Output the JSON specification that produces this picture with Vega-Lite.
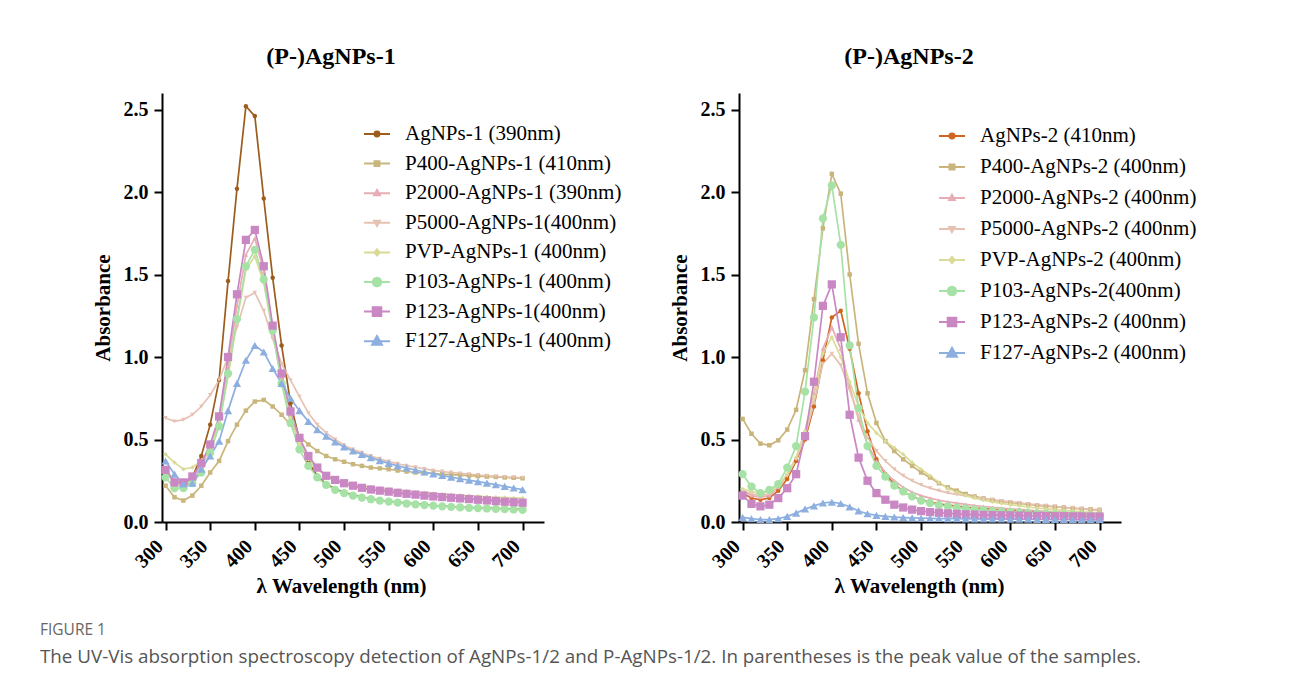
{
"$schema":"https://vega.github.io/schema/vega-lite/v6.json",
"background":"white",
"padding":{"left":40,"top":45,"right":5,"bottom":5},
"bounds":"flush",
"spacing":195,
"title":{"text":"FIGURE 1","subtitle":"The UV-Vis absorption spectroscopy detection of AgNPs-1/2 and P-AgNPs-1/2. In parentheses is the peak value of the samples.","orient":"bottom","anchor":"start","frame":"bounds","dx":-52,"offset":27,"font":"Open Sans","fontSize":15.5,"fontWeight":"normal","color":"#666666","subtitleFont":"Open Sans","subtitleFontSize":18.8,"subtitleColor":"#555555","subtitlePadding":9},
"datasets":{
"p1":[
{"series":"AgNPs-1 (390nm)","nm":300,"abs":0.31},{"series":"AgNPs-1 (390nm)","nm":310,"abs":0.25},{"series":"AgNPs-1 (390nm)","nm":320,"abs":0.23},{"series":"AgNPs-1 (390nm)","nm":330,"abs":0.27},{"series":"AgNPs-1 (390nm)","nm":340,"abs":0.40},{"series":"AgNPs-1 (390nm)","nm":350,"abs":0.59},{"series":"AgNPs-1 (390nm)","nm":360,"abs":0.86},{"series":"AgNPs-1 (390nm)","nm":370,"abs":1.46},{"series":"AgNPs-1 (390nm)","nm":380,"abs":2.02},{"series":"AgNPs-1 (390nm)","nm":390,"abs":2.52},{"series":"AgNPs-1 (390nm)","nm":400,"abs":2.46},{"series":"AgNPs-1 (390nm)","nm":410,"abs":1.96},{"series":"AgNPs-1 (390nm)","nm":420,"abs":1.48},{"series":"AgNPs-1 (390nm)","nm":430,"abs":1.07},{"series":"AgNPs-1 (390nm)","nm":440,"abs":0.72},{"series":"AgNPs-1 (390nm)","nm":450,"abs":0.50},{"series":"AgNPs-1 (390nm)","nm":460,"abs":0.36},{"series":"AgNPs-1 (390nm)","nm":470,"abs":0.28},{"series":"AgNPs-1 (390nm)","nm":480,"abs":0.23},{"series":"AgNPs-1 (390nm)","nm":490,"abs":0.20},{"series":"AgNPs-1 (390nm)","nm":500,"abs":0.18},{"series":"AgNPs-1 (390nm)","nm":510,"abs":0.165},{"series":"AgNPs-1 (390nm)","nm":520,"abs":0.15},{"series":"AgNPs-1 (390nm)","nm":530,"abs":0.14},{"series":"AgNPs-1 (390nm)","nm":540,"abs":0.132},{"series":"AgNPs-1 (390nm)","nm":550,"abs":0.125},{"series":"AgNPs-1 (390nm)","nm":560,"abs":0.12},{"series":"AgNPs-1 (390nm)","nm":570,"abs":0.115},{"series":"AgNPs-1 (390nm)","nm":580,"abs":0.11},{"series":"AgNPs-1 (390nm)","nm":590,"abs":0.105},{"series":"AgNPs-1 (390nm)","nm":600,"abs":0.10},{"series":"AgNPs-1 (390nm)","nm":610,"abs":0.097},{"series":"AgNPs-1 (390nm)","nm":620,"abs":0.094},{"series":"AgNPs-1 (390nm)","nm":630,"abs":0.091},{"series":"AgNPs-1 (390nm)","nm":640,"abs":0.088},{"series":"AgNPs-1 (390nm)","nm":650,"abs":0.086},{"series":"AgNPs-1 (390nm)","nm":660,"abs":0.084},{"series":"AgNPs-1 (390nm)","nm":670,"abs":0.082},{"series":"AgNPs-1 (390nm)","nm":680,"abs":0.08},{"series":"AgNPs-1 (390nm)","nm":690,"abs":0.078},{"series":"AgNPs-1 (390nm)","nm":700,"abs":0.076},
{"series":"P400-AgNPs-1 (410nm)","nm":300,"abs":0.22},{"series":"P400-AgNPs-1 (410nm)","nm":310,"abs":0.15},{"series":"P400-AgNPs-1 (410nm)","nm":320,"abs":0.13},{"series":"P400-AgNPs-1 (410nm)","nm":330,"abs":0.16},{"series":"P400-AgNPs-1 (410nm)","nm":340,"abs":0.22},{"series":"P400-AgNPs-1 (410nm)","nm":350,"abs":0.30},{"series":"P400-AgNPs-1 (410nm)","nm":360,"abs":0.37},{"series":"P400-AgNPs-1 (410nm)","nm":370,"abs":0.49},{"series":"P400-AgNPs-1 (410nm)","nm":380,"abs":0.59},{"series":"P400-AgNPs-1 (410nm)","nm":390,"abs":0.675},{"series":"P400-AgNPs-1 (410nm)","nm":400,"abs":0.73},{"series":"P400-AgNPs-1 (410nm)","nm":410,"abs":0.74},{"series":"P400-AgNPs-1 (410nm)","nm":420,"abs":0.70},{"series":"P400-AgNPs-1 (410nm)","nm":430,"abs":0.65},{"series":"P400-AgNPs-1 (410nm)","nm":440,"abs":0.59},{"series":"P400-AgNPs-1 (410nm)","nm":450,"abs":0.52},{"series":"P400-AgNPs-1 (410nm)","nm":460,"abs":0.47},{"series":"P400-AgNPs-1 (410nm)","nm":470,"abs":0.43},{"series":"P400-AgNPs-1 (410nm)","nm":480,"abs":0.40},{"series":"P400-AgNPs-1 (410nm)","nm":490,"abs":0.38},{"series":"P400-AgNPs-1 (410nm)","nm":500,"abs":0.365},{"series":"P400-AgNPs-1 (410nm)","nm":510,"abs":0.35},{"series":"P400-AgNPs-1 (410nm)","nm":520,"abs":0.34},{"series":"P400-AgNPs-1 (410nm)","nm":530,"abs":0.33},{"series":"P400-AgNPs-1 (410nm)","nm":540,"abs":0.325},{"series":"P400-AgNPs-1 (410nm)","nm":550,"abs":0.32},{"series":"P400-AgNPs-1 (410nm)","nm":560,"abs":0.312},{"series":"P400-AgNPs-1 (410nm)","nm":570,"abs":0.306},{"series":"P400-AgNPs-1 (410nm)","nm":580,"abs":0.30},{"series":"P400-AgNPs-1 (410nm)","nm":590,"abs":0.297},{"series":"P400-AgNPs-1 (410nm)","nm":600,"abs":0.294},{"series":"P400-AgNPs-1 (410nm)","nm":610,"abs":0.29},{"series":"P400-AgNPs-1 (410nm)","nm":620,"abs":0.287},{"series":"P400-AgNPs-1 (410nm)","nm":630,"abs":0.284},{"series":"P400-AgNPs-1 (410nm)","nm":640,"abs":0.281},{"series":"P400-AgNPs-1 (410nm)","nm":650,"abs":0.278},{"series":"P400-AgNPs-1 (410nm)","nm":660,"abs":0.275},{"series":"P400-AgNPs-1 (410nm)","nm":670,"abs":0.273},{"series":"P400-AgNPs-1 (410nm)","nm":680,"abs":0.27},{"series":"P400-AgNPs-1 (410nm)","nm":690,"abs":0.268},{"series":"P400-AgNPs-1 (410nm)","nm":700,"abs":0.265},
{"series":"P2000-AgNPs-1 (390nm)","nm":300,"abs":0.30},{"series":"P2000-AgNPs-1 (390nm)","nm":310,"abs":0.25},{"series":"P2000-AgNPs-1 (390nm)","nm":320,"abs":0.24},{"series":"P2000-AgNPs-1 (390nm)","nm":330,"abs":0.27},{"series":"P2000-AgNPs-1 (390nm)","nm":340,"abs":0.34},{"series":"P2000-AgNPs-1 (390nm)","nm":350,"abs":0.45},{"series":"P2000-AgNPs-1 (390nm)","nm":360,"abs":0.63},{"series":"P2000-AgNPs-1 (390nm)","nm":370,"abs":0.94},{"series":"P2000-AgNPs-1 (390nm)","nm":380,"abs":1.31},{"series":"P2000-AgNPs-1 (390nm)","nm":390,"abs":1.62},{"series":"P2000-AgNPs-1 (390nm)","nm":400,"abs":1.72},{"series":"P2000-AgNPs-1 (390nm)","nm":410,"abs":1.52},{"series":"P2000-AgNPs-1 (390nm)","nm":420,"abs":1.18},{"series":"P2000-AgNPs-1 (390nm)","nm":430,"abs":0.88},{"series":"P2000-AgNPs-1 (390nm)","nm":440,"abs":0.65},{"series":"P2000-AgNPs-1 (390nm)","nm":450,"abs":0.49},{"series":"P2000-AgNPs-1 (390nm)","nm":460,"abs":0.39},{"series":"P2000-AgNPs-1 (390nm)","nm":470,"abs":0.32},{"series":"P2000-AgNPs-1 (390nm)","nm":480,"abs":0.28},{"series":"P2000-AgNPs-1 (390nm)","nm":490,"abs":0.25},{"series":"P2000-AgNPs-1 (390nm)","nm":500,"abs":0.23},{"series":"P2000-AgNPs-1 (390nm)","nm":510,"abs":0.215},{"series":"P2000-AgNPs-1 (390nm)","nm":520,"abs":0.205},{"series":"P2000-AgNPs-1 (390nm)","nm":530,"abs":0.195},{"series":"P2000-AgNPs-1 (390nm)","nm":540,"abs":0.19},{"series":"P2000-AgNPs-1 (390nm)","nm":550,"abs":0.183},{"series":"P2000-AgNPs-1 (390nm)","nm":560,"abs":0.177},{"series":"P2000-AgNPs-1 (390nm)","nm":570,"abs":0.172},{"series":"P2000-AgNPs-1 (390nm)","nm":580,"abs":0.167},{"series":"P2000-AgNPs-1 (390nm)","nm":590,"abs":0.162},{"series":"P2000-AgNPs-1 (390nm)","nm":600,"abs":0.158},{"series":"P2000-AgNPs-1 (390nm)","nm":610,"abs":0.154},{"series":"P2000-AgNPs-1 (390nm)","nm":620,"abs":0.15},{"series":"P2000-AgNPs-1 (390nm)","nm":630,"abs":0.147},{"series":"P2000-AgNPs-1 (390nm)","nm":640,"abs":0.144},{"series":"P2000-AgNPs-1 (390nm)","nm":650,"abs":0.141},{"series":"P2000-AgNPs-1 (390nm)","nm":660,"abs":0.138},{"series":"P2000-AgNPs-1 (390nm)","nm":670,"abs":0.135},{"series":"P2000-AgNPs-1 (390nm)","nm":680,"abs":0.132},{"series":"P2000-AgNPs-1 (390nm)","nm":690,"abs":0.13},{"series":"P2000-AgNPs-1 (390nm)","nm":700,"abs":0.128},
{"series":"P5000-AgNPs-1(400nm)","nm":300,"abs":0.63},{"series":"P5000-AgNPs-1(400nm)","nm":310,"abs":0.61},{"series":"P5000-AgNPs-1(400nm)","nm":320,"abs":0.62},{"series":"P5000-AgNPs-1(400nm)","nm":330,"abs":0.65},{"series":"P5000-AgNPs-1(400nm)","nm":340,"abs":0.70},{"series":"P5000-AgNPs-1(400nm)","nm":350,"abs":0.77},{"series":"P5000-AgNPs-1(400nm)","nm":360,"abs":0.86},{"series":"P5000-AgNPs-1(400nm)","nm":370,"abs":1.00},{"series":"P5000-AgNPs-1(400nm)","nm":380,"abs":1.18},{"series":"P5000-AgNPs-1(400nm)","nm":390,"abs":1.36},{"series":"P5000-AgNPs-1(400nm)","nm":400,"abs":1.39},{"series":"P5000-AgNPs-1(400nm)","nm":410,"abs":1.28},{"series":"P5000-AgNPs-1(400nm)","nm":420,"abs":1.11},{"series":"P5000-AgNPs-1(400nm)","nm":430,"abs":0.96},{"series":"P5000-AgNPs-1(400nm)","nm":440,"abs":0.86},{"series":"P5000-AgNPs-1(400nm)","nm":450,"abs":0.76},{"series":"P5000-AgNPs-1(400nm)","nm":460,"abs":0.66},{"series":"P5000-AgNPs-1(400nm)","nm":470,"abs":0.59},{"series":"P5000-AgNPs-1(400nm)","nm":480,"abs":0.54},{"series":"P5000-AgNPs-1(400nm)","nm":490,"abs":0.50},{"series":"P5000-AgNPs-1(400nm)","nm":500,"abs":0.465},{"series":"P5000-AgNPs-1(400nm)","nm":510,"abs":0.44},{"series":"P5000-AgNPs-1(400nm)","nm":520,"abs":0.42},{"series":"P5000-AgNPs-1(400nm)","nm":530,"abs":0.40},{"series":"P5000-AgNPs-1(400nm)","nm":540,"abs":0.383},{"series":"P5000-AgNPs-1(400nm)","nm":550,"abs":0.367},{"series":"P5000-AgNPs-1(400nm)","nm":560,"abs":0.353},{"series":"P5000-AgNPs-1(400nm)","nm":570,"abs":0.342},{"series":"P5000-AgNPs-1(400nm)","nm":580,"abs":0.332},{"series":"P5000-AgNPs-1(400nm)","nm":590,"abs":0.322},{"series":"P5000-AgNPs-1(400nm)","nm":600,"abs":0.313},{"series":"P5000-AgNPs-1(400nm)","nm":610,"abs":0.306},{"series":"P5000-AgNPs-1(400nm)","nm":620,"abs":0.30},{"series":"P5000-AgNPs-1(400nm)","nm":630,"abs":0.295},{"series":"P5000-AgNPs-1(400nm)","nm":640,"abs":0.29},{"series":"P5000-AgNPs-1(400nm)","nm":650,"abs":0.285},{"series":"P5000-AgNPs-1(400nm)","nm":660,"abs":0.28},{"series":"P5000-AgNPs-1(400nm)","nm":670,"abs":0.276},{"series":"P5000-AgNPs-1(400nm)","nm":680,"abs":0.272},{"series":"P5000-AgNPs-1(400nm)","nm":690,"abs":0.27},{"series":"P5000-AgNPs-1(400nm)","nm":700,"abs":0.268},
{"series":"PVP-AgNPs-1 (400nm)","nm":300,"abs":0.41},{"series":"PVP-AgNPs-1 (400nm)","nm":310,"abs":0.36},{"series":"PVP-AgNPs-1 (400nm)","nm":320,"abs":0.32},{"series":"PVP-AgNPs-1 (400nm)","nm":330,"abs":0.33},{"series":"PVP-AgNPs-1 (400nm)","nm":340,"abs":0.37},{"series":"PVP-AgNPs-1 (400nm)","nm":350,"abs":0.44},{"series":"PVP-AgNPs-1 (400nm)","nm":360,"abs":0.60},{"series":"PVP-AgNPs-1 (400nm)","nm":370,"abs":0.88},{"series":"PVP-AgNPs-1 (400nm)","nm":380,"abs":1.22},{"series":"PVP-AgNPs-1 (400nm)","nm":390,"abs":1.53},{"series":"PVP-AgNPs-1 (400nm)","nm":400,"abs":1.61},{"series":"PVP-AgNPs-1 (400nm)","nm":410,"abs":1.45},{"series":"PVP-AgNPs-1 (400nm)","nm":420,"abs":1.15},{"series":"PVP-AgNPs-1 (400nm)","nm":430,"abs":0.85},{"series":"PVP-AgNPs-1 (400nm)","nm":440,"abs":0.63},{"series":"PVP-AgNPs-1 (400nm)","nm":450,"abs":0.48},{"series":"PVP-AgNPs-1 (400nm)","nm":460,"abs":0.38},{"series":"PVP-AgNPs-1 (400nm)","nm":470,"abs":0.32},{"series":"PVP-AgNPs-1 (400nm)","nm":480,"abs":0.285},{"series":"PVP-AgNPs-1 (400nm)","nm":490,"abs":0.26},{"series":"PVP-AgNPs-1 (400nm)","nm":500,"abs":0.24},{"series":"PVP-AgNPs-1 (400nm)","nm":510,"abs":0.228},{"series":"PVP-AgNPs-1 (400nm)","nm":520,"abs":0.218},{"series":"PVP-AgNPs-1 (400nm)","nm":530,"abs":0.21},{"series":"PVP-AgNPs-1 (400nm)","nm":540,"abs":0.203},{"series":"PVP-AgNPs-1 (400nm)","nm":550,"abs":0.197},{"series":"PVP-AgNPs-1 (400nm)","nm":560,"abs":0.191},{"series":"PVP-AgNPs-1 (400nm)","nm":570,"abs":0.186},{"series":"PVP-AgNPs-1 (400nm)","nm":580,"abs":0.181},{"series":"PVP-AgNPs-1 (400nm)","nm":590,"abs":0.177},{"series":"PVP-AgNPs-1 (400nm)","nm":600,"abs":0.173},{"series":"PVP-AgNPs-1 (400nm)","nm":610,"abs":0.169},{"series":"PVP-AgNPs-1 (400nm)","nm":620,"abs":0.165},{"series":"PVP-AgNPs-1 (400nm)","nm":630,"abs":0.162},{"series":"PVP-AgNPs-1 (400nm)","nm":640,"abs":0.159},{"series":"PVP-AgNPs-1 (400nm)","nm":650,"abs":0.156},{"series":"PVP-AgNPs-1 (400nm)","nm":660,"abs":0.153},{"series":"PVP-AgNPs-1 (400nm)","nm":670,"abs":0.15},{"series":"PVP-AgNPs-1 (400nm)","nm":680,"abs":0.148},{"series":"PVP-AgNPs-1 (400nm)","nm":690,"abs":0.146},{"series":"PVP-AgNPs-1 (400nm)","nm":700,"abs":0.144},
{"series":"P103-AgNPs-1 (400nm)","nm":300,"abs":0.27},{"series":"P103-AgNPs-1 (400nm)","nm":310,"abs":0.205},{"series":"P103-AgNPs-1 (400nm)","nm":320,"abs":0.205},{"series":"P103-AgNPs-1 (400nm)","nm":330,"abs":0.236},{"series":"P103-AgNPs-1 (400nm)","nm":340,"abs":0.30},{"series":"P103-AgNPs-1 (400nm)","nm":350,"abs":0.42},{"series":"P103-AgNPs-1 (400nm)","nm":360,"abs":0.58},{"series":"P103-AgNPs-1 (400nm)","nm":370,"abs":0.90},{"series":"P103-AgNPs-1 (400nm)","nm":380,"abs":1.23},{"series":"P103-AgNPs-1 (400nm)","nm":390,"abs":1.55},{"series":"P103-AgNPs-1 (400nm)","nm":400,"abs":1.65},{"series":"P103-AgNPs-1 (400nm)","nm":410,"abs":1.47},{"series":"P103-AgNPs-1 (400nm)","nm":420,"abs":1.16},{"series":"P103-AgNPs-1 (400nm)","nm":430,"abs":0.84},{"series":"P103-AgNPs-1 (400nm)","nm":440,"abs":0.60},{"series":"P103-AgNPs-1 (400nm)","nm":450,"abs":0.44},{"series":"P103-AgNPs-1 (400nm)","nm":460,"abs":0.34},{"series":"P103-AgNPs-1 (400nm)","nm":470,"abs":0.27},{"series":"P103-AgNPs-1 (400nm)","nm":480,"abs":0.225},{"series":"P103-AgNPs-1 (400nm)","nm":490,"abs":0.195},{"series":"P103-AgNPs-1 (400nm)","nm":500,"abs":0.175},{"series":"P103-AgNPs-1 (400nm)","nm":510,"abs":0.16},{"series":"P103-AgNPs-1 (400nm)","nm":520,"abs":0.148},{"series":"P103-AgNPs-1 (400nm)","nm":530,"abs":0.138},{"series":"P103-AgNPs-1 (400nm)","nm":540,"abs":0.13},{"series":"P103-AgNPs-1 (400nm)","nm":550,"abs":0.123},{"series":"P103-AgNPs-1 (400nm)","nm":560,"abs":0.117},{"series":"P103-AgNPs-1 (400nm)","nm":570,"abs":0.112},{"series":"P103-AgNPs-1 (400nm)","nm":580,"abs":0.107},{"series":"P103-AgNPs-1 (400nm)","nm":590,"abs":0.103},{"series":"P103-AgNPs-1 (400nm)","nm":600,"abs":0.099},{"series":"P103-AgNPs-1 (400nm)","nm":610,"abs":0.095},{"series":"P103-AgNPs-1 (400nm)","nm":620,"abs":0.092},{"series":"P103-AgNPs-1 (400nm)","nm":630,"abs":0.089},{"series":"P103-AgNPs-1 (400nm)","nm":640,"abs":0.086},{"series":"P103-AgNPs-1 (400nm)","nm":650,"abs":0.084},{"series":"P103-AgNPs-1 (400nm)","nm":660,"abs":0.082},{"series":"P103-AgNPs-1 (400nm)","nm":670,"abs":0.08},{"series":"P103-AgNPs-1 (400nm)","nm":680,"abs":0.078},{"series":"P103-AgNPs-1 (400nm)","nm":690,"abs":0.076},{"series":"P103-AgNPs-1 (400nm)","nm":700,"abs":0.074},
{"series":"P123-AgNPs-1(400nm)","nm":300,"abs":0.316},{"series":"P123-AgNPs-1(400nm)","nm":310,"abs":0.24},{"series":"P123-AgNPs-1(400nm)","nm":320,"abs":0.24},{"series":"P123-AgNPs-1(400nm)","nm":330,"abs":0.276},{"series":"P123-AgNPs-1(400nm)","nm":340,"abs":0.357},{"series":"P123-AgNPs-1(400nm)","nm":350,"abs":0.47},{"series":"P123-AgNPs-1(400nm)","nm":360,"abs":0.64},{"series":"P123-AgNPs-1(400nm)","nm":370,"abs":1.00},{"series":"P123-AgNPs-1(400nm)","nm":380,"abs":1.38},{"series":"P123-AgNPs-1(400nm)","nm":390,"abs":1.71},{"series":"P123-AgNPs-1(400nm)","nm":400,"abs":1.77},{"series":"P123-AgNPs-1(400nm)","nm":410,"abs":1.55},{"series":"P123-AgNPs-1(400nm)","nm":420,"abs":1.19},{"series":"P123-AgNPs-1(400nm)","nm":430,"abs":0.90},{"series":"P123-AgNPs-1(400nm)","nm":440,"abs":0.67},{"series":"P123-AgNPs-1(400nm)","nm":450,"abs":0.51},{"series":"P123-AgNPs-1(400nm)","nm":460,"abs":0.40},{"series":"P123-AgNPs-1(400nm)","nm":470,"abs":0.33},{"series":"P123-AgNPs-1(400nm)","nm":480,"abs":0.28},{"series":"P123-AgNPs-1(400nm)","nm":490,"abs":0.255},{"series":"P123-AgNPs-1(400nm)","nm":500,"abs":0.235},{"series":"P123-AgNPs-1(400nm)","nm":510,"abs":0.22},{"series":"P123-AgNPs-1(400nm)","nm":520,"abs":0.207},{"series":"P123-AgNPs-1(400nm)","nm":530,"abs":0.197},{"series":"P123-AgNPs-1(400nm)","nm":540,"abs":0.19},{"series":"P123-AgNPs-1(400nm)","nm":550,"abs":0.184},{"series":"P123-AgNPs-1(400nm)","nm":560,"abs":0.177},{"series":"P123-AgNPs-1(400nm)","nm":570,"abs":0.171},{"series":"P123-AgNPs-1(400nm)","nm":580,"abs":0.166},{"series":"P123-AgNPs-1(400nm)","nm":590,"abs":0.16},{"series":"P123-AgNPs-1(400nm)","nm":600,"abs":0.155},{"series":"P123-AgNPs-1(400nm)","nm":610,"abs":0.151},{"series":"P123-AgNPs-1(400nm)","nm":620,"abs":0.147},{"series":"P123-AgNPs-1(400nm)","nm":630,"abs":0.143},{"series":"P123-AgNPs-1(400nm)","nm":640,"abs":0.139},{"series":"P123-AgNPs-1(400nm)","nm":650,"abs":0.135},{"series":"P123-AgNPs-1(400nm)","nm":660,"abs":0.131},{"series":"P123-AgNPs-1(400nm)","nm":670,"abs":0.127},{"series":"P123-AgNPs-1(400nm)","nm":680,"abs":0.123},{"series":"P123-AgNPs-1(400nm)","nm":690,"abs":0.12},{"series":"P123-AgNPs-1(400nm)","nm":700,"abs":0.117},
{"series":"F127-AgNPs-1 (400nm)","nm":300,"abs":0.37},{"series":"F127-AgNPs-1 (400nm)","nm":310,"abs":0.29},{"series":"F127-AgNPs-1 (400nm)","nm":320,"abs":0.23},{"series":"F127-AgNPs-1 (400nm)","nm":330,"abs":0.236},{"series":"F127-AgNPs-1 (400nm)","nm":340,"abs":0.32},{"series":"F127-AgNPs-1 (400nm)","nm":350,"abs":0.40},{"series":"F127-AgNPs-1 (400nm)","nm":360,"abs":0.49},{"series":"F127-AgNPs-1 (400nm)","nm":370,"abs":0.675},{"series":"F127-AgNPs-1 (400nm)","nm":380,"abs":0.84},{"series":"F127-AgNPs-1 (400nm)","nm":390,"abs":0.98},{"series":"F127-AgNPs-1 (400nm)","nm":400,"abs":1.07},{"series":"F127-AgNPs-1 (400nm)","nm":410,"abs":1.03},{"series":"F127-AgNPs-1 (400nm)","nm":420,"abs":0.93},{"series":"F127-AgNPs-1 (400nm)","nm":430,"abs":0.84},{"series":"F127-AgNPs-1 (400nm)","nm":440,"abs":0.75},{"series":"F127-AgNPs-1 (400nm)","nm":450,"abs":0.675},{"series":"F127-AgNPs-1 (400nm)","nm":460,"abs":0.61},{"series":"F127-AgNPs-1 (400nm)","nm":470,"abs":0.56},{"series":"F127-AgNPs-1 (400nm)","nm":480,"abs":0.52},{"series":"F127-AgNPs-1 (400nm)","nm":490,"abs":0.485},{"series":"F127-AgNPs-1 (400nm)","nm":500,"abs":0.455},{"series":"F127-AgNPs-1 (400nm)","nm":510,"abs":0.43},{"series":"F127-AgNPs-1 (400nm)","nm":520,"abs":0.41},{"series":"F127-AgNPs-1 (400nm)","nm":530,"abs":0.39},{"series":"F127-AgNPs-1 (400nm)","nm":540,"abs":0.372},{"series":"F127-AgNPs-1 (400nm)","nm":550,"abs":0.355},{"series":"F127-AgNPs-1 (400nm)","nm":560,"abs":0.34},{"series":"F127-AgNPs-1 (400nm)","nm":570,"abs":0.327},{"series":"F127-AgNPs-1 (400nm)","nm":580,"abs":0.315},{"series":"F127-AgNPs-1 (400nm)","nm":590,"abs":0.303},{"series":"F127-AgNPs-1 (400nm)","nm":600,"abs":0.292},{"series":"F127-AgNPs-1 (400nm)","nm":610,"abs":0.282},{"series":"F127-AgNPs-1 (400nm)","nm":620,"abs":0.272},{"series":"F127-AgNPs-1 (400nm)","nm":630,"abs":0.262},{"series":"F127-AgNPs-1 (400nm)","nm":640,"abs":0.253},{"series":"F127-AgNPs-1 (400nm)","nm":650,"abs":0.245},{"series":"F127-AgNPs-1 (400nm)","nm":660,"abs":0.236},{"series":"F127-AgNPs-1 (400nm)","nm":670,"abs":0.226},{"series":"F127-AgNPs-1 (400nm)","nm":680,"abs":0.216},{"series":"F127-AgNPs-1 (400nm)","nm":690,"abs":0.206},{"series":"F127-AgNPs-1 (400nm)","nm":700,"abs":0.196}
],
"p2":[
{"series":"AgNPs-2 (410nm)","nm":300,"abs":0.175},{"series":"AgNPs-2 (410nm)","nm":310,"abs":0.145},{"series":"AgNPs-2 (410nm)","nm":320,"abs":0.135},{"series":"AgNPs-2 (410nm)","nm":330,"abs":0.145},{"series":"AgNPs-2 (410nm)","nm":340,"abs":0.19},{"series":"AgNPs-2 (410nm)","nm":350,"abs":0.26},{"series":"AgNPs-2 (410nm)","nm":360,"abs":0.37},{"series":"AgNPs-2 (410nm)","nm":370,"abs":0.50},{"series":"AgNPs-2 (410nm)","nm":380,"abs":0.70},{"series":"AgNPs-2 (410nm)","nm":390,"abs":0.98},{"series":"AgNPs-2 (410nm)","nm":400,"abs":1.24},{"series":"AgNPs-2 (410nm)","nm":410,"abs":1.28},{"series":"AgNPs-2 (410nm)","nm":420,"abs":1.05},{"series":"AgNPs-2 (410nm)","nm":430,"abs":0.78},{"series":"AgNPs-2 (410nm)","nm":440,"abs":0.55},{"series":"AgNPs-2 (410nm)","nm":450,"abs":0.38},{"series":"AgNPs-2 (410nm)","nm":460,"abs":0.29},{"series":"AgNPs-2 (410nm)","nm":470,"abs":0.23},{"series":"AgNPs-2 (410nm)","nm":480,"abs":0.185},{"series":"AgNPs-2 (410nm)","nm":490,"abs":0.155},{"series":"AgNPs-2 (410nm)","nm":500,"abs":0.135},{"series":"AgNPs-2 (410nm)","nm":510,"abs":0.12},{"series":"AgNPs-2 (410nm)","nm":520,"abs":0.11},{"series":"AgNPs-2 (410nm)","nm":530,"abs":0.102},{"series":"AgNPs-2 (410nm)","nm":540,"abs":0.096},{"series":"AgNPs-2 (410nm)","nm":550,"abs":0.09},{"series":"AgNPs-2 (410nm)","nm":560,"abs":0.085},{"series":"AgNPs-2 (410nm)","nm":570,"abs":0.081},{"series":"AgNPs-2 (410nm)","nm":580,"abs":0.077},{"series":"AgNPs-2 (410nm)","nm":590,"abs":0.074},{"series":"AgNPs-2 (410nm)","nm":600,"abs":0.071},{"series":"AgNPs-2 (410nm)","nm":610,"abs":0.068},{"series":"AgNPs-2 (410nm)","nm":620,"abs":0.065},{"series":"AgNPs-2 (410nm)","nm":630,"abs":0.062},{"series":"AgNPs-2 (410nm)","nm":640,"abs":0.06},{"series":"AgNPs-2 (410nm)","nm":650,"abs":0.058},{"series":"AgNPs-2 (410nm)","nm":660,"abs":0.056},{"series":"AgNPs-2 (410nm)","nm":670,"abs":0.054},{"series":"AgNPs-2 (410nm)","nm":680,"abs":0.052},{"series":"AgNPs-2 (410nm)","nm":690,"abs":0.05},{"series":"AgNPs-2 (410nm)","nm":700,"abs":0.048},
{"series":"P400-AgNPs-2 (400nm)","nm":300,"abs":0.625},{"series":"P400-AgNPs-2 (400nm)","nm":310,"abs":0.535},{"series":"P400-AgNPs-2 (400nm)","nm":320,"abs":0.475},{"series":"P400-AgNPs-2 (400nm)","nm":330,"abs":0.465},{"series":"P400-AgNPs-2 (400nm)","nm":340,"abs":0.495},{"series":"P400-AgNPs-2 (400nm)","nm":350,"abs":0.56},{"series":"P400-AgNPs-2 (400nm)","nm":360,"abs":0.68},{"series":"P400-AgNPs-2 (400nm)","nm":370,"abs":0.92},{"series":"P400-AgNPs-2 (400nm)","nm":380,"abs":1.35},{"series":"P400-AgNPs-2 (400nm)","nm":390,"abs":1.78},{"series":"P400-AgNPs-2 (400nm)","nm":400,"abs":2.11},{"series":"P400-AgNPs-2 (400nm)","nm":410,"abs":1.99},{"series":"P400-AgNPs-2 (400nm)","nm":420,"abs":1.50},{"series":"P400-AgNPs-2 (400nm)","nm":430,"abs":1.08},{"series":"P400-AgNPs-2 (400nm)","nm":440,"abs":0.78},{"series":"P400-AgNPs-2 (400nm)","nm":450,"abs":0.60},{"series":"P400-AgNPs-2 (400nm)","nm":460,"abs":0.49},{"series":"P400-AgNPs-2 (400nm)","nm":470,"abs":0.43},{"series":"P400-AgNPs-2 (400nm)","nm":480,"abs":0.38},{"series":"P400-AgNPs-2 (400nm)","nm":490,"abs":0.34},{"series":"P400-AgNPs-2 (400nm)","nm":500,"abs":0.30},{"series":"P400-AgNPs-2 (400nm)","nm":510,"abs":0.27},{"series":"P400-AgNPs-2 (400nm)","nm":520,"abs":0.235},{"series":"P400-AgNPs-2 (400nm)","nm":530,"abs":0.21},{"series":"P400-AgNPs-2 (400nm)","nm":540,"abs":0.19},{"series":"P400-AgNPs-2 (400nm)","nm":550,"abs":0.17},{"series":"P400-AgNPs-2 (400nm)","nm":560,"abs":0.155},{"series":"P400-AgNPs-2 (400nm)","nm":570,"abs":0.143},{"series":"P400-AgNPs-2 (400nm)","nm":580,"abs":0.133},{"series":"P400-AgNPs-2 (400nm)","nm":590,"abs":0.125},{"series":"P400-AgNPs-2 (400nm)","nm":600,"abs":0.118},{"series":"P400-AgNPs-2 (400nm)","nm":610,"abs":0.112},{"series":"P400-AgNPs-2 (400nm)","nm":620,"abs":0.106},{"series":"P400-AgNPs-2 (400nm)","nm":630,"abs":0.101},{"series":"P400-AgNPs-2 (400nm)","nm":640,"abs":0.096},{"series":"P400-AgNPs-2 (400nm)","nm":650,"abs":0.092},{"series":"P400-AgNPs-2 (400nm)","nm":660,"abs":0.088},{"series":"P400-AgNPs-2 (400nm)","nm":670,"abs":0.084},{"series":"P400-AgNPs-2 (400nm)","nm":680,"abs":0.08},{"series":"P400-AgNPs-2 (400nm)","nm":690,"abs":0.077},{"series":"P400-AgNPs-2 (400nm)","nm":700,"abs":0.074},
{"series":"P2000-AgNPs-2 (400nm)","nm":300,"abs":0.19},{"series":"P2000-AgNPs-2 (400nm)","nm":310,"abs":0.16},{"series":"P2000-AgNPs-2 (400nm)","nm":320,"abs":0.15},{"series":"P2000-AgNPs-2 (400nm)","nm":330,"abs":0.16},{"series":"P2000-AgNPs-2 (400nm)","nm":340,"abs":0.21},{"series":"P2000-AgNPs-2 (400nm)","nm":350,"abs":0.29},{"series":"P2000-AgNPs-2 (400nm)","nm":360,"abs":0.39},{"series":"P2000-AgNPs-2 (400nm)","nm":370,"abs":0.55},{"series":"P2000-AgNPs-2 (400nm)","nm":380,"abs":0.78},{"series":"P2000-AgNPs-2 (400nm)","nm":390,"abs":1.05},{"series":"P2000-AgNPs-2 (400nm)","nm":400,"abs":1.18},{"series":"P2000-AgNPs-2 (400nm)","nm":410,"abs":1.05},{"series":"P2000-AgNPs-2 (400nm)","nm":420,"abs":0.82},{"series":"P2000-AgNPs-2 (400nm)","nm":430,"abs":0.62},{"series":"P2000-AgNPs-2 (400nm)","nm":440,"abs":0.47},{"series":"P2000-AgNPs-2 (400nm)","nm":450,"abs":0.37},{"series":"P2000-AgNPs-2 (400nm)","nm":460,"abs":0.30},{"series":"P2000-AgNPs-2 (400nm)","nm":470,"abs":0.25},{"series":"P2000-AgNPs-2 (400nm)","nm":480,"abs":0.21},{"series":"P2000-AgNPs-2 (400nm)","nm":490,"abs":0.18},{"series":"P2000-AgNPs-2 (400nm)","nm":500,"abs":0.16},{"series":"P2000-AgNPs-2 (400nm)","nm":510,"abs":0.145},{"series":"P2000-AgNPs-2 (400nm)","nm":520,"abs":0.132},{"series":"P2000-AgNPs-2 (400nm)","nm":530,"abs":0.122},{"series":"P2000-AgNPs-2 (400nm)","nm":540,"abs":0.114},{"series":"P2000-AgNPs-2 (400nm)","nm":550,"abs":0.107},{"series":"P2000-AgNPs-2 (400nm)","nm":560,"abs":0.1},{"series":"P2000-AgNPs-2 (400nm)","nm":570,"abs":0.094},{"series":"P2000-AgNPs-2 (400nm)","nm":580,"abs":0.089},{"series":"P2000-AgNPs-2 (400nm)","nm":590,"abs":0.084},{"series":"P2000-AgNPs-2 (400nm)","nm":600,"abs":0.08},{"series":"P2000-AgNPs-2 (400nm)","nm":610,"abs":0.076},{"series":"P2000-AgNPs-2 (400nm)","nm":620,"abs":0.072},{"series":"P2000-AgNPs-2 (400nm)","nm":630,"abs":0.068},{"series":"P2000-AgNPs-2 (400nm)","nm":640,"abs":0.065},{"series":"P2000-AgNPs-2 (400nm)","nm":650,"abs":0.062},{"series":"P2000-AgNPs-2 (400nm)","nm":660,"abs":0.059},{"series":"P2000-AgNPs-2 (400nm)","nm":670,"abs":0.056},{"series":"P2000-AgNPs-2 (400nm)","nm":680,"abs":0.053},{"series":"P2000-AgNPs-2 (400nm)","nm":690,"abs":0.05},{"series":"P2000-AgNPs-2 (400nm)","nm":700,"abs":0.048},
{"series":"P5000-AgNPs-2 (400nm)","nm":300,"abs":0.19},{"series":"P5000-AgNPs-2 (400nm)","nm":310,"abs":0.17},{"series":"P5000-AgNPs-2 (400nm)","nm":320,"abs":0.16},{"series":"P5000-AgNPs-2 (400nm)","nm":330,"abs":0.17},{"series":"P5000-AgNPs-2 (400nm)","nm":340,"abs":0.21},{"series":"P5000-AgNPs-2 (400nm)","nm":350,"abs":0.28},{"series":"P5000-AgNPs-2 (400nm)","nm":360,"abs":0.38},{"series":"P5000-AgNPs-2 (400nm)","nm":370,"abs":0.52},{"series":"P5000-AgNPs-2 (400nm)","nm":380,"abs":0.72},{"series":"P5000-AgNPs-2 (400nm)","nm":390,"abs":0.96},{"series":"P5000-AgNPs-2 (400nm)","nm":400,"abs":1.02},{"series":"P5000-AgNPs-2 (400nm)","nm":410,"abs":0.95},{"series":"P5000-AgNPs-2 (400nm)","nm":420,"abs":0.80},{"series":"P5000-AgNPs-2 (400nm)","nm":430,"abs":0.64},{"series":"P5000-AgNPs-2 (400nm)","nm":440,"abs":0.51},{"series":"P5000-AgNPs-2 (400nm)","nm":450,"abs":0.43},{"series":"P5000-AgNPs-2 (400nm)","nm":460,"abs":0.37},{"series":"P5000-AgNPs-2 (400nm)","nm":470,"abs":0.32},{"series":"P5000-AgNPs-2 (400nm)","nm":480,"abs":0.28},{"series":"P5000-AgNPs-2 (400nm)","nm":490,"abs":0.25},{"series":"P5000-AgNPs-2 (400nm)","nm":500,"abs":0.225},{"series":"P5000-AgNPs-2 (400nm)","nm":510,"abs":0.205},{"series":"P5000-AgNPs-2 (400nm)","nm":520,"abs":0.19},{"series":"P5000-AgNPs-2 (400nm)","nm":530,"abs":0.177},{"series":"P5000-AgNPs-2 (400nm)","nm":540,"abs":0.167},{"series":"P5000-AgNPs-2 (400nm)","nm":550,"abs":0.158},{"series":"P5000-AgNPs-2 (400nm)","nm":560,"abs":0.15},{"series":"P5000-AgNPs-2 (400nm)","nm":570,"abs":0.142},{"series":"P5000-AgNPs-2 (400nm)","nm":580,"abs":0.135},{"series":"P5000-AgNPs-2 (400nm)","nm":590,"abs":0.128},{"series":"P5000-AgNPs-2 (400nm)","nm":600,"abs":0.122},{"series":"P5000-AgNPs-2 (400nm)","nm":610,"abs":0.116},{"series":"P5000-AgNPs-2 (400nm)","nm":620,"abs":0.11},{"series":"P5000-AgNPs-2 (400nm)","nm":630,"abs":0.104},{"series":"P5000-AgNPs-2 (400nm)","nm":640,"abs":0.099},{"series":"P5000-AgNPs-2 (400nm)","nm":650,"abs":0.094},{"series":"P5000-AgNPs-2 (400nm)","nm":660,"abs":0.089},{"series":"P5000-AgNPs-2 (400nm)","nm":670,"abs":0.084},{"series":"P5000-AgNPs-2 (400nm)","nm":680,"abs":0.079},{"series":"P5000-AgNPs-2 (400nm)","nm":690,"abs":0.074},{"series":"P5000-AgNPs-2 (400nm)","nm":700,"abs":0.07},
{"series":"PVP-AgNPs-2 (400nm)","nm":300,"abs":0.20},{"series":"PVP-AgNPs-2 (400nm)","nm":310,"abs":0.185},{"series":"PVP-AgNPs-2 (400nm)","nm":320,"abs":0.175},{"series":"PVP-AgNPs-2 (400nm)","nm":330,"abs":0.185},{"series":"PVP-AgNPs-2 (400nm)","nm":340,"abs":0.22},{"series":"PVP-AgNPs-2 (400nm)","nm":350,"abs":0.29},{"series":"PVP-AgNPs-2 (400nm)","nm":360,"abs":0.39},{"series":"PVP-AgNPs-2 (400nm)","nm":370,"abs":0.55},{"series":"PVP-AgNPs-2 (400nm)","nm":380,"abs":0.76},{"series":"PVP-AgNPs-2 (400nm)","nm":390,"abs":1.02},{"series":"PVP-AgNPs-2 (400nm)","nm":400,"abs":1.12},{"series":"PVP-AgNPs-2 (400nm)","nm":410,"abs":1.00},{"series":"PVP-AgNPs-2 (400nm)","nm":420,"abs":0.85},{"series":"PVP-AgNPs-2 (400nm)","nm":430,"abs":0.70},{"series":"PVP-AgNPs-2 (400nm)","nm":440,"abs":0.60},{"series":"PVP-AgNPs-2 (400nm)","nm":450,"abs":0.54},{"series":"PVP-AgNPs-2 (400nm)","nm":460,"abs":0.49},{"series":"PVP-AgNPs-2 (400nm)","nm":470,"abs":0.45},{"series":"PVP-AgNPs-2 (400nm)","nm":480,"abs":0.41},{"series":"PVP-AgNPs-2 (400nm)","nm":490,"abs":0.36},{"series":"PVP-AgNPs-2 (400nm)","nm":500,"abs":0.32},{"series":"PVP-AgNPs-2 (400nm)","nm":510,"abs":0.28},{"series":"PVP-AgNPs-2 (400nm)","nm":520,"abs":0.24},{"series":"PVP-AgNPs-2 (400nm)","nm":530,"abs":0.205},{"series":"PVP-AgNPs-2 (400nm)","nm":540,"abs":0.18},{"series":"PVP-AgNPs-2 (400nm)","nm":550,"abs":0.16},{"series":"PVP-AgNPs-2 (400nm)","nm":560,"abs":0.145},{"series":"PVP-AgNPs-2 (400nm)","nm":570,"abs":0.133},{"series":"PVP-AgNPs-2 (400nm)","nm":580,"abs":0.122},{"series":"PVP-AgNPs-2 (400nm)","nm":590,"abs":0.113},{"series":"PVP-AgNPs-2 (400nm)","nm":600,"abs":0.105},{"series":"PVP-AgNPs-2 (400nm)","nm":610,"abs":0.098},{"series":"PVP-AgNPs-2 (400nm)","nm":620,"abs":0.091},{"series":"PVP-AgNPs-2 (400nm)","nm":630,"abs":0.085},{"series":"PVP-AgNPs-2 (400nm)","nm":640,"abs":0.08},{"series":"PVP-AgNPs-2 (400nm)","nm":650,"abs":0.075},{"series":"PVP-AgNPs-2 (400nm)","nm":660,"abs":0.07},{"series":"PVP-AgNPs-2 (400nm)","nm":670,"abs":0.066},{"series":"PVP-AgNPs-2 (400nm)","nm":680,"abs":0.062},{"series":"PVP-AgNPs-2 (400nm)","nm":690,"abs":0.058},{"series":"PVP-AgNPs-2 (400nm)","nm":700,"abs":0.055},
{"series":"P103-AgNPs-2(400nm)","nm":300,"abs":0.29},{"series":"P103-AgNPs-2(400nm)","nm":310,"abs":0.215},{"series":"P103-AgNPs-2(400nm)","nm":320,"abs":0.175},{"series":"P103-AgNPs-2(400nm)","nm":330,"abs":0.195},{"series":"P103-AgNPs-2(400nm)","nm":340,"abs":0.23},{"series":"P103-AgNPs-2(400nm)","nm":350,"abs":0.33},{"series":"P103-AgNPs-2(400nm)","nm":360,"abs":0.46},{"series":"P103-AgNPs-2(400nm)","nm":370,"abs":0.79},{"series":"P103-AgNPs-2(400nm)","nm":380,"abs":1.24},{"series":"P103-AgNPs-2(400nm)","nm":390,"abs":1.84},{"series":"P103-AgNPs-2(400nm)","nm":400,"abs":2.04},{"series":"P103-AgNPs-2(400nm)","nm":410,"abs":1.68},{"series":"P103-AgNPs-2(400nm)","nm":420,"abs":1.07},{"series":"P103-AgNPs-2(400nm)","nm":430,"abs":0.69},{"series":"P103-AgNPs-2(400nm)","nm":440,"abs":0.46},{"series":"P103-AgNPs-2(400nm)","nm":450,"abs":0.34},{"series":"P103-AgNPs-2(400nm)","nm":460,"abs":0.275},{"series":"P103-AgNPs-2(400nm)","nm":470,"abs":0.22},{"series":"P103-AgNPs-2(400nm)","nm":480,"abs":0.185},{"series":"P103-AgNPs-2(400nm)","nm":490,"abs":0.155},{"series":"P103-AgNPs-2(400nm)","nm":500,"abs":0.13},{"series":"P103-AgNPs-2(400nm)","nm":510,"abs":0.115},{"series":"P103-AgNPs-2(400nm)","nm":520,"abs":0.103},{"series":"P103-AgNPs-2(400nm)","nm":530,"abs":0.094},{"series":"P103-AgNPs-2(400nm)","nm":540,"abs":0.087},{"series":"P103-AgNPs-2(400nm)","nm":550,"abs":0.081},{"series":"P103-AgNPs-2(400nm)","nm":560,"abs":0.076},{"series":"P103-AgNPs-2(400nm)","nm":570,"abs":0.072},{"series":"P103-AgNPs-2(400nm)","nm":580,"abs":0.068},{"series":"P103-AgNPs-2(400nm)","nm":590,"abs":0.064},{"series":"P103-AgNPs-2(400nm)","nm":600,"abs":0.061},{"series":"P103-AgNPs-2(400nm)","nm":610,"abs":0.058},{"series":"P103-AgNPs-2(400nm)","nm":620,"abs":0.055},{"series":"P103-AgNPs-2(400nm)","nm":630,"abs":0.052},{"series":"P103-AgNPs-2(400nm)","nm":640,"abs":0.05},{"series":"P103-AgNPs-2(400nm)","nm":650,"abs":0.048},{"series":"P103-AgNPs-2(400nm)","nm":660,"abs":0.046},{"series":"P103-AgNPs-2(400nm)","nm":670,"abs":0.044},{"series":"P103-AgNPs-2(400nm)","nm":680,"abs":0.042},{"series":"P103-AgNPs-2(400nm)","nm":690,"abs":0.04},{"series":"P103-AgNPs-2(400nm)","nm":700,"abs":0.038},
{"series":"P123-AgNPs-2 (400nm)","nm":300,"abs":0.16},{"series":"P123-AgNPs-2 (400nm)","nm":310,"abs":0.11},{"series":"P123-AgNPs-2 (400nm)","nm":320,"abs":0.095},{"series":"P123-AgNPs-2 (400nm)","nm":330,"abs":0.105},{"series":"P123-AgNPs-2 (400nm)","nm":340,"abs":0.145},{"series":"P123-AgNPs-2 (400nm)","nm":350,"abs":0.205},{"series":"P123-AgNPs-2 (400nm)","nm":360,"abs":0.29},{"series":"P123-AgNPs-2 (400nm)","nm":370,"abs":0.52},{"series":"P123-AgNPs-2 (400nm)","nm":380,"abs":0.85},{"series":"P123-AgNPs-2 (400nm)","nm":390,"abs":1.31},{"series":"P123-AgNPs-2 (400nm)","nm":400,"abs":1.44},{"series":"P123-AgNPs-2 (400nm)","nm":410,"abs":1.12},{"series":"P123-AgNPs-2 (400nm)","nm":420,"abs":0.65},{"series":"P123-AgNPs-2 (400nm)","nm":430,"abs":0.39},{"series":"P123-AgNPs-2 (400nm)","nm":440,"abs":0.25},{"series":"P123-AgNPs-2 (400nm)","nm":450,"abs":0.175},{"series":"P123-AgNPs-2 (400nm)","nm":460,"abs":0.135},{"series":"P123-AgNPs-2 (400nm)","nm":470,"abs":0.105},{"series":"P123-AgNPs-2 (400nm)","nm":480,"abs":0.088},{"series":"P123-AgNPs-2 (400nm)","nm":490,"abs":0.075},{"series":"P123-AgNPs-2 (400nm)","nm":500,"abs":0.066},{"series":"P123-AgNPs-2 (400nm)","nm":510,"abs":0.06},{"series":"P123-AgNPs-2 (400nm)","nm":520,"abs":0.056},{"series":"P123-AgNPs-2 (400nm)","nm":530,"abs":0.052},{"series":"P123-AgNPs-2 (400nm)","nm":540,"abs":0.049},{"series":"P123-AgNPs-2 (400nm)","nm":550,"abs":0.047},{"series":"P123-AgNPs-2 (400nm)","nm":560,"abs":0.045},{"series":"P123-AgNPs-2 (400nm)","nm":570,"abs":0.043},{"series":"P123-AgNPs-2 (400nm)","nm":580,"abs":0.042},{"series":"P123-AgNPs-2 (400nm)","nm":590,"abs":0.041},{"series":"P123-AgNPs-2 (400nm)","nm":600,"abs":0.04},{"series":"P123-AgNPs-2 (400nm)","nm":610,"abs":0.039},{"series":"P123-AgNPs-2 (400nm)","nm":620,"abs":0.038},{"series":"P123-AgNPs-2 (400nm)","nm":630,"abs":0.037},{"series":"P123-AgNPs-2 (400nm)","nm":640,"abs":0.036},{"series":"P123-AgNPs-2 (400nm)","nm":650,"abs":0.035},{"series":"P123-AgNPs-2 (400nm)","nm":660,"abs":0.035},{"series":"P123-AgNPs-2 (400nm)","nm":670,"abs":0.034},{"series":"P123-AgNPs-2 (400nm)","nm":680,"abs":0.034},{"series":"P123-AgNPs-2 (400nm)","nm":690,"abs":0.033},{"series":"P123-AgNPs-2 (400nm)","nm":700,"abs":0.033},
{"series":"F127-AgNPs-2 (400nm)","nm":300,"abs":0.028},{"series":"F127-AgNPs-2 (400nm)","nm":310,"abs":0.02},{"series":"F127-AgNPs-2 (400nm)","nm":320,"abs":0.015},{"series":"F127-AgNPs-2 (400nm)","nm":330,"abs":0.014},{"series":"F127-AgNPs-2 (400nm)","nm":340,"abs":0.02},{"series":"F127-AgNPs-2 (400nm)","nm":350,"abs":0.034},{"series":"F127-AgNPs-2 (400nm)","nm":360,"abs":0.054},{"series":"F127-AgNPs-2 (400nm)","nm":370,"abs":0.079},{"series":"F127-AgNPs-2 (400nm)","nm":380,"abs":0.098},{"series":"F127-AgNPs-2 (400nm)","nm":390,"abs":0.115},{"series":"F127-AgNPs-2 (400nm)","nm":400,"abs":0.12},{"series":"F127-AgNPs-2 (400nm)","nm":410,"abs":0.112},{"series":"F127-AgNPs-2 (400nm)","nm":420,"abs":0.092},{"series":"F127-AgNPs-2 (400nm)","nm":430,"abs":0.067},{"series":"F127-AgNPs-2 (400nm)","nm":440,"abs":0.05},{"series":"F127-AgNPs-2 (400nm)","nm":450,"abs":0.04},{"series":"F127-AgNPs-2 (400nm)","nm":460,"abs":0.034},{"series":"F127-AgNPs-2 (400nm)","nm":470,"abs":0.03},{"series":"F127-AgNPs-2 (400nm)","nm":480,"abs":0.027},{"series":"F127-AgNPs-2 (400nm)","nm":490,"abs":0.025},{"series":"F127-AgNPs-2 (400nm)","nm":500,"abs":0.023},{"series":"F127-AgNPs-2 (400nm)","nm":510,"abs":0.022},{"series":"F127-AgNPs-2 (400nm)","nm":520,"abs":0.021},{"series":"F127-AgNPs-2 (400nm)","nm":530,"abs":0.02},{"series":"F127-AgNPs-2 (400nm)","nm":540,"abs":0.02},{"series":"F127-AgNPs-2 (400nm)","nm":550,"abs":0.019},{"series":"F127-AgNPs-2 (400nm)","nm":560,"abs":0.019},{"series":"F127-AgNPs-2 (400nm)","nm":570,"abs":0.018},{"series":"F127-AgNPs-2 (400nm)","nm":580,"abs":0.018},{"series":"F127-AgNPs-2 (400nm)","nm":590,"abs":0.018},{"series":"F127-AgNPs-2 (400nm)","nm":600,"abs":0.017},{"series":"F127-AgNPs-2 (400nm)","nm":610,"abs":0.017},{"series":"F127-AgNPs-2 (400nm)","nm":620,"abs":0.017},{"series":"F127-AgNPs-2 (400nm)","nm":630,"abs":0.016},{"series":"F127-AgNPs-2 (400nm)","nm":640,"abs":0.016},{"series":"F127-AgNPs-2 (400nm)","nm":650,"abs":0.016},{"series":"F127-AgNPs-2 (400nm)","nm":660,"abs":0.016},{"series":"F127-AgNPs-2 (400nm)","nm":670,"abs":0.015},{"series":"F127-AgNPs-2 (400nm)","nm":680,"abs":0.015},{"series":"F127-AgNPs-2 (400nm)","nm":690,"abs":0.015},{"series":"F127-AgNPs-2 (400nm)","nm":700,"abs":0.015}
]
},
"hconcat":[
{
"width":382,"height":429,
"title":{"text":"(P-)AgNPs-1","frame":"group","dx":-22},
"data":{"name":"p1"},
"encoding":{
"x":{"field":"nm","type":"quantitative","scale":{"domain":[296,724],"nice":false,"zero":false},"axis":{"values":[300,350,400,450,500,550,600,650,700],"title":"λ  Wavelength (nm)","labelAngle":-45,"labelAlign":"right","labelBaseline":"middle","labelOffset":-6,"labelPadding":13,"titleX":179}},
"y":{"field":"abs","type":"quantitative","scale":{"domain":[0,2.6],"nice":false},"axis":{"values":[0,0.5,1,1.5,2,2.5],"format":".1f","title":"Absorbance"}}
},
"layer":[
{"mark":{"type":"line","strokeWidth":1.7},"encoding":{"color":{"field":"series","type":"nominal","scale":{"domain":["AgNPs-1 (390nm)","P400-AgNPs-1 (410nm)","P2000-AgNPs-1 (390nm)","P5000-AgNPs-1(400nm)","PVP-AgNPs-1 (400nm)","P103-AgNPs-1 (400nm)","P123-AgNPs-1(400nm)","F127-AgNPs-1 (400nm)"],"range":["#9c5c1c","#c9b67c","#e8acb4","#e6c2b2","#dada98","#a6e2a6","#c987c4","#8dafe0"]},"legend":null}}},
{"transform":[{"filter":{"field":"series","oneOf":["AgNPs-1 (390nm)","P400-AgNPs-1 (410nm)","P2000-AgNPs-1 (390nm)","P5000-AgNPs-1(400nm)","PVP-AgNPs-1 (400nm)"]}}],
"mark":{"type":"point","filled":true,"opacity":1,"size":20},"encoding":{"color":{"field":"series","type":"nominal","scale":{"domain":["AgNPs-1 (390nm)","P400-AgNPs-1 (410nm)","P2000-AgNPs-1 (390nm)","P5000-AgNPs-1(400nm)","PVP-AgNPs-1 (400nm)","P103-AgNPs-1 (400nm)","P123-AgNPs-1(400nm)","F127-AgNPs-1 (400nm)"],"range":["#9c5c1c","#c9b67c","#e8acb4","#e6c2b2","#dada98","#a6e2a6","#c987c4","#8dafe0"]},"legend":null},"shape":{"field":"series","type":"nominal","scale":{"domain":["AgNPs-1 (390nm)","P400-AgNPs-1 (410nm)","P2000-AgNPs-1 (390nm)","P5000-AgNPs-1(400nm)","PVP-AgNPs-1 (400nm)","P103-AgNPs-1 (400nm)","P123-AgNPs-1(400nm)","F127-AgNPs-1 (400nm)"],"range":["circle","square","triangle-up","triangle-down","diamond","circle","square","triangle-up"]},"legend":null}}},
{"transform":[{"filter":{"field":"series","oneOf":["P103-AgNPs-1 (400nm)","P123-AgNPs-1(400nm)","F127-AgNPs-1 (400nm)"]}}],
"mark":{"type":"point","filled":true,"opacity":1,"size":68},"encoding":{"color":{"field":"series","type":"nominal","scale":{"domain":["AgNPs-1 (390nm)","P400-AgNPs-1 (410nm)","P2000-AgNPs-1 (390nm)","P5000-AgNPs-1(400nm)","PVP-AgNPs-1 (400nm)","P103-AgNPs-1 (400nm)","P123-AgNPs-1(400nm)","F127-AgNPs-1 (400nm)"],"range":["#9c5c1c","#c9b67c","#e8acb4","#e6c2b2","#dada98","#a6e2a6","#c987c4","#8dafe0"]},"legend":null},"shape":{"field":"series","type":"nominal","scale":{"domain":["AgNPs-1 (390nm)","P400-AgNPs-1 (410nm)","P2000-AgNPs-1 (390nm)","P5000-AgNPs-1(400nm)","PVP-AgNPs-1 (400nm)","P103-AgNPs-1 (400nm)","P123-AgNPs-1(400nm)","F127-AgNPs-1 (400nm)"],"range":["circle","square","triangle-up","triangle-down","diamond","circle","square","triangle-up"]},"legend":null}}},
{"mark":{"type":"point","filled":true,"opacity":0,"strokeWidth":2},"encoding":{
"fill":{"field":"series","type":"nominal","scale":{"domain":["AgNPs-1 (390nm)","P400-AgNPs-1 (410nm)","P2000-AgNPs-1 (390nm)","P5000-AgNPs-1(400nm)","PVP-AgNPs-1 (400nm)","P103-AgNPs-1 (400nm)","P123-AgNPs-1(400nm)","F127-AgNPs-1 (400nm)"],"range":["#9c5c1c","#c9b67c","#e8acb4","#e6c2b2","#dada98","#a6e2a6","#c987c4","#8dafe0"]},"legend":{"title":null,"orient":"none","legendX":201,"legendY":27,"rowPadding":5.6,"labelFont":"Liberation Serif","labelFontSize":21,"encode":{"labels":{"update":{"font":{"value":"Liberation Serif"}}}}}},
"stroke":{"field":"series","type":"nominal","scale":{"domain":["AgNPs-1 (390nm)","P400-AgNPs-1 (410nm)","P2000-AgNPs-1 (390nm)","P5000-AgNPs-1(400nm)","PVP-AgNPs-1 (400nm)","P103-AgNPs-1 (400nm)","P123-AgNPs-1(400nm)","F127-AgNPs-1 (400nm)"],"range":["#9c5c1c","#c9b67c","#e8acb4","#e6c2b2","#dada98","#a6e2a6","#c987c4","#8dafe0"]},"legend":{"title":null,"orient":"none","legendX":201,"legendY":27,"rowPadding":5.6,"labelFont":"Liberation Serif","labelFontSize":21,"encode":{"labels":{"update":{"font":{"value":"Liberation Serif"}}}}}},
"shape":{"field":"series","type":"nominal","scale":{"domain":["AgNPs-1 (390nm)","P400-AgNPs-1 (410nm)","P2000-AgNPs-1 (390nm)","P5000-AgNPs-1(400nm)","PVP-AgNPs-1 (400nm)","P103-AgNPs-1 (400nm)","P123-AgNPs-1(400nm)","F127-AgNPs-1 (400nm)"],"range":["M-1,0H1M0.19,0A0.19,0.19,0,1,1,-0.19,0A0.19,0.19,0,1,1,0.19,0Z","M-1,0H1M-0.19,-0.19H0.19V0.19H-0.19Z","M-1,0H1M0,-0.24L0.22,0.16H-0.22Z","M-1,0H1M0,0.24L0.22,-0.16H-0.22Z","M-1,0H1M0,-0.24L0.2,0L0,0.24L-0.2,0Z","M-1,0H1M0.33,0A0.33,0.33,0,1,1,-0.33,0A0.33,0.33,0,1,1,0.33,0Z","M-1,0H1M-0.33,-0.33H0.33V0.33H-0.33Z","M-1,0H1M0,-0.4L0.38,0.28H-0.38Z"]},"legend":{"title":null,"orient":"none","legendX":201,"legendY":27,"rowPadding":5.6,"labelFont":"Liberation Serif","labelFontSize":21,"encode":{"labels":{"update":{"font":{"value":"Liberation Serif"}}}}}}
}}
],
"resolve":{"scale":{"shape":"independent","fill":"independent","stroke":"independent"}}
},
{
"width":382,"height":429,
"title":{"text":"(P-)AgNPs-2","frame":"group","dx":-21},
"data":{"name":"p2"},
"encoding":{
"x":{"field":"nm","type":"quantitative","scale":{"domain":[296,724],"nice":false,"zero":false},"axis":{"values":[300,350,400,450,500,550,600,650,700],"title":"λ  Wavelength (nm)","labelAngle":-45,"labelAlign":"right","labelBaseline":"middle","labelOffset":-6,"labelPadding":13,"titleX":180}},
"y":{"field":"abs","type":"quantitative","scale":{"domain":[0,2.6],"nice":false},"axis":{"values":[0,0.5,1,1.5,2,2.5],"format":".1f","title":"Absorbance"}}
},
"layer":[
{"mark":{"type":"line","strokeWidth":1.7},"encoding":{"color":{"field":"series","type":"nominal","scale":{"domain":["AgNPs-2 (410nm)","P400-AgNPs-2 (400nm)","P2000-AgNPs-2 (400nm)","P5000-AgNPs-2 (400nm)","PVP-AgNPs-2 (400nm)","P103-AgNPs-2(400nm)","P123-AgNPs-2 (400nm)","F127-AgNPs-2 (400nm)"],"range":["#d0661e","#c9b47c","#e8acb4","#e6c2b2","#dcdc9a","#a6e2a6","#c987c4","#8dafe0"]},"legend":null}}},
{"transform":[{"filter":{"field":"series","oneOf":["AgNPs-2 (410nm)","P400-AgNPs-2 (400nm)","P2000-AgNPs-2 (400nm)","P5000-AgNPs-2 (400nm)","PVP-AgNPs-2 (400nm)"]}}],
"mark":{"type":"point","filled":true,"opacity":1,"size":20},"encoding":{"color":{"field":"series","type":"nominal","scale":{"domain":["AgNPs-2 (410nm)","P400-AgNPs-2 (400nm)","P2000-AgNPs-2 (400nm)","P5000-AgNPs-2 (400nm)","PVP-AgNPs-2 (400nm)","P103-AgNPs-2(400nm)","P123-AgNPs-2 (400nm)","F127-AgNPs-2 (400nm)"],"range":["#d0661e","#c9b47c","#e8acb4","#e6c2b2","#dcdc9a","#a6e2a6","#c987c4","#8dafe0"]},"legend":null},"shape":{"field":"series","type":"nominal","scale":{"domain":["AgNPs-2 (410nm)","P400-AgNPs-2 (400nm)","P2000-AgNPs-2 (400nm)","P5000-AgNPs-2 (400nm)","PVP-AgNPs-2 (400nm)","P103-AgNPs-2(400nm)","P123-AgNPs-2 (400nm)","F127-AgNPs-2 (400nm)"],"range":["circle","square","triangle-up","triangle-down","diamond","circle","square","triangle-up"]},"legend":null}}},
{"transform":[{"filter":{"field":"series","oneOf":["P103-AgNPs-2(400nm)","P123-AgNPs-2 (400nm)","F127-AgNPs-2 (400nm)"]}}],
"mark":{"type":"point","filled":true,"opacity":1,"size":68},"encoding":{"color":{"field":"series","type":"nominal","scale":{"domain":["AgNPs-2 (410nm)","P400-AgNPs-2 (400nm)","P2000-AgNPs-2 (400nm)","P5000-AgNPs-2 (400nm)","PVP-AgNPs-2 (400nm)","P103-AgNPs-2(400nm)","P123-AgNPs-2 (400nm)","F127-AgNPs-2 (400nm)"],"range":["#d0661e","#c9b47c","#e8acb4","#e6c2b2","#dcdc9a","#a6e2a6","#c987c4","#8dafe0"]},"legend":null},"shape":{"field":"series","type":"nominal","scale":{"domain":["AgNPs-2 (410nm)","P400-AgNPs-2 (400nm)","P2000-AgNPs-2 (400nm)","P5000-AgNPs-2 (400nm)","PVP-AgNPs-2 (400nm)","P103-AgNPs-2(400nm)","P123-AgNPs-2 (400nm)","F127-AgNPs-2 (400nm)"],"range":["circle","square","triangle-up","triangle-down","diamond","circle","square","triangle-up"]},"legend":null}}},
{"mark":{"type":"point","filled":true,"opacity":0,"strokeWidth":2},"encoding":{
"fill":{"field":"series","type":"nominal","scale":{"domain":["AgNPs-2 (410nm)","P400-AgNPs-2 (400nm)","P2000-AgNPs-2 (400nm)","P5000-AgNPs-2 (400nm)","PVP-AgNPs-2 (400nm)","P103-AgNPs-2(400nm)","P123-AgNPs-2 (400nm)","F127-AgNPs-2 (400nm)"],"range":["#d0661e","#c9b47c","#e8acb4","#e6c2b2","#dcdc9a","#a6e2a6","#c987c4","#8dafe0"]},"legend":{"title":null,"orient":"none","legendX":199,"legendY":29,"rowPadding":7,"labelFont":"Liberation Serif","labelFontSize":21,"encode":{"labels":{"update":{"font":{"value":"Liberation Serif"}}}}}},
"stroke":{"field":"series","type":"nominal","scale":{"domain":["AgNPs-2 (410nm)","P400-AgNPs-2 (400nm)","P2000-AgNPs-2 (400nm)","P5000-AgNPs-2 (400nm)","PVP-AgNPs-2 (400nm)","P103-AgNPs-2(400nm)","P123-AgNPs-2 (400nm)","F127-AgNPs-2 (400nm)"],"range":["#d0661e","#c9b47c","#e8acb4","#e6c2b2","#dcdc9a","#a6e2a6","#c987c4","#8dafe0"]},"legend":{"title":null,"orient":"none","legendX":199,"legendY":29,"rowPadding":7,"labelFont":"Liberation Serif","labelFontSize":21,"encode":{"labels":{"update":{"font":{"value":"Liberation Serif"}}}}}},
"shape":{"field":"series","type":"nominal","scale":{"domain":["AgNPs-2 (410nm)","P400-AgNPs-2 (400nm)","P2000-AgNPs-2 (400nm)","P5000-AgNPs-2 (400nm)","PVP-AgNPs-2 (400nm)","P103-AgNPs-2(400nm)","P123-AgNPs-2 (400nm)","F127-AgNPs-2 (400nm)"],"range":["M-1,0H1M0.19,0A0.19,0.19,0,1,1,-0.19,0A0.19,0.19,0,1,1,0.19,0Z","M-1,0H1M-0.19,-0.19H0.19V0.19H-0.19Z","M-1,0H1M0,-0.24L0.22,0.16H-0.22Z","M-1,0H1M0,0.24L0.22,-0.16H-0.22Z","M-1,0H1M0,-0.24L0.2,0L0,0.24L-0.2,0Z","M-1,0H1M0.33,0A0.33,0.33,0,1,1,-0.33,0A0.33,0.33,0,1,1,0.33,0Z","M-1,0H1M-0.33,-0.33H0.33V0.33H-0.33Z","M-1,0H1M0,-0.4L0.38,0.28H-0.38Z"]},"legend":{"title":null,"orient":"none","legendX":199,"legendY":29,"rowPadding":7,"labelFont":"Liberation Serif","labelFontSize":21,"encode":{"labels":{"update":{"font":{"value":"Liberation Serif"}}}}}}
}}
],
"resolve":{"scale":{"shape":"independent","fill":"independent","stroke":"independent"}}
}
],
"resolve":{"scale":{"color":"independent","shape":"independent","fill":"independent","stroke":"independent"}},
"config":{
"view":{"stroke":null},
"font":"Liberation Serif",
"style":{"guide-label":{"font":"Liberation Serif"}},
"title":{"font":"Liberation Serif","fontSize":24,"fontWeight":"bold","color":"#000000","offset":24,"anchor":"middle"},
"axis":{"domainColor":"#000000","domainWidth":2,"tickColor":"#000000","tickWidth":2,"tickSize":8,"labelFont":"Liberation Serif","labelFontWeight":"bold","labelFontSize":20,"labelColor":"#000000","labelPadding":6,"titleFont":"Liberation Serif","titleFontWeight":"bold","titleFontSize":21,"titleColor":"#000000","grid":false},
"axisY":{"titlePadding":10},
"axisX":{"titlePadding":4},
"legend":{"symbolOpacity":1,"symbolStrokeWidth":2,"symbolSize":676,"labelFont":"Liberation Serif","labelFontSize":21,"labelColor":"#000000","labelOffset":14,"labelLimit":500,"padding":0}
}
}
